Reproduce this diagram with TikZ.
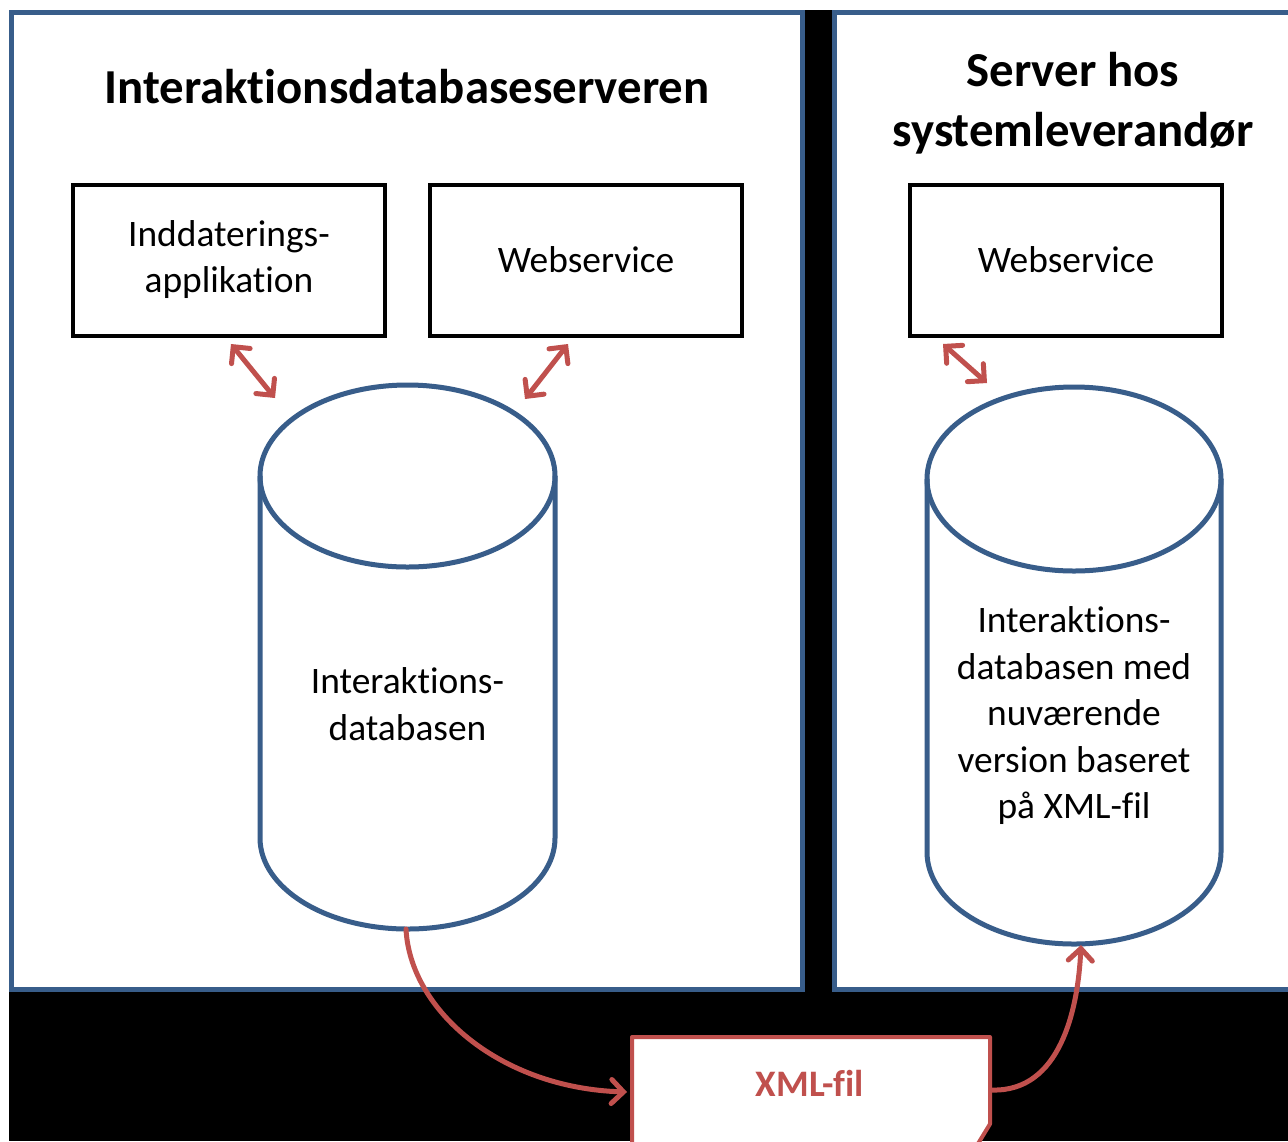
\documentclass[tikz,border=0pt]{standalone}
\usepackage{fontspec}
\setmainfont{Carlito}[Ligatures={NoCommon,NoContextual}]
\usetikzlibrary{arrows.meta}
\definecolor{pblue}{RGB}{56,93,138}
\definecolor{pred}{RGB}{192,80,77}
\begin{document}
\begin{tikzpicture}[x=0.5pt,y=-0.5pt,
  panel/.style={fill=white,draw=pblue,line width=2.5pt},
  box/.style={draw=black,line width=2pt,fill=white,minimum width=156pt,minimum height=75.5pt,inner sep=0pt,align=center,font=\fontsize{18.7}{23}\selectfont},
  cyl/.style={fill=white,draw=pblue,line width=2.5pt},
  body/.style={align=center,font=\fontsize{18.7}{23.25}\selectfont},
  ttl/.style={align=center,font=\fontsize{24.4}{30}\selectfont\bfseries},
  dbl/.style={draw=pred,line width=2.5pt,line cap=round,{Straight Barb[length=6pt,width=12pt,line cap=round]}-{Straight Barb[length=6pt,width=12pt,line cap=round]}},
  arr/.style={draw=pred,line width=2.5pt,line cap=round,-{Straight Barb[length=6pt,width=12pt,line cap=round]}}
]
\useasboundingbox (0,0) rectangle (1288,1141);
\clip (0,0) rectangle (1288,1141);
\fill[white] (0,0) rectangle (1288,1141);
\fill[black] (9,10) rectangle (1288,1141);
\draw[panel] (11.5,12.5) rectangle (802.5,989.5);
\draw[panel] (834.5,12.5) rectangle (1300,989.5);

% titles
\node[ttl] (t1) at (407,87) {Interaktionsdatabaseserveren};
\node[ttl] (t2) at (1073,103) {Server hos\\systemleverandør};

% boxes
\node[box] (b1) at (229,260) {Inddaterings-\\applikation};
\node[box] (b2) at (586,260) {Webservice};
\node[box] (b3) at (1066,260) {Webservice};

% cylinder 1
\path[cyl] (260,476) -- (260,838) arc[start angle=180,end angle=360,x radius=73.75pt,y radius=45.5pt] -- (555,476) arc[start angle=0,end angle=180,x radius=73.75pt,y radius=45.5pt] -- cycle;
\draw[draw=pblue,line width=2.5pt] (555,476) arc[start angle=0,end angle=-180,x radius=73.75pt,y radius=45.5pt];
% cylinder 2
\path[cyl] (927,479) -- (927,852) arc[start angle=180,end angle=360,x radius=73.5pt,y radius=46pt] -- (1221,479) arc[start angle=0,end angle=180,x radius=73.5pt,y radius=46pt] -- cycle;
\draw[draw=pblue,line width=2.5pt] (1221,479) arc[start angle=0,end angle=-180,x radius=73.5pt,y radius=46pt];

\node[body] (d1) at (407.5,704) {Interaktions-\\databasen};
\node[body] (d2) at (1074,716) {Interaktions-\\databasen med\\nuværende\\version baseret\\på XML-fil};

% connector end points on the cylinders and the file
\coordinate (c1l) at (275,398);
\coordinate (c1r) at (525,399);
\coordinate (c1b) at (406,929);
\coordinate (c2l) at (987,383);
\coordinate (c2b) at (1081,945);
\coordinate (xmlL) at (627,1092);
\coordinate (xmlR) at (992,1090);

% XML file
\path[fill=white,draw=pred,line width=2pt,line join=round] (632,1160) -- (632,1037) -- (990,1037) -- (990,1124) -- (968,1160);
\node[font=\fontsize{18.7}{23}\selectfont\bfseries,text=pred] (xml) at (810,1083) {XML-fil};

% connectors
\draw[dbl] ([shift={(2,6.5)}]b1.south) -- (c1l);
\draw[dbl] ([shift={(-18,6.5)}]b2.south) -- (c1r);
\draw[dbl] ([shift={(-123,6.5)}]b3.south) -- (c2l);
\draw[arr] (c1b) .. controls (410,1010) and (500,1088) .. (xmlL);
\draw[arr] (xmlR) .. controls (1060,1092) and (1078,1010) .. (c2b);
\end{tikzpicture}
\end{document}
